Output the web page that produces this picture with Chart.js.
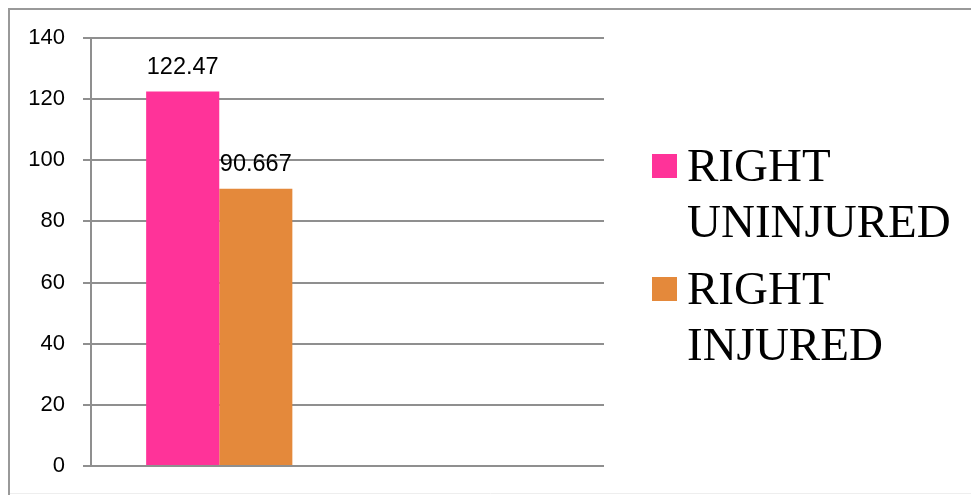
<!DOCTYPE html>
<html>
<head>
<meta charset="utf-8">
<script src="https://cdn.jsdelivr.net/npm/chart.js@4/dist/chart.umd.min.js"></script>
<style>
  html, body { margin: 0; padding: 0; background: #fff; }
  #wrap { width: 971px; height: 495px; position: relative; }
</style>
</head>
<body>
<div id="wrap"><canvas id="c"></canvas></div>
<script>
// ---- data ----
const categories = ['', ''];
const rightUninjured = [122.47, null];
const rightInjured = [90.667, null];
const seriesNames = [['RIGHT', 'UNINJURED'], ['RIGHT', 'INJURED']];
const yMin = 0, yMax = 140, yStep = 20;

// ---- styles ----
const colors = ['#FF3399', '#E4893B'];
const gridColor = '#8f8f8f';

const frame = {
  id: 'frame',
  beforeDraw(chart) {
    const ctx = chart.ctx;
    ctx.save();
    ctx.fillStyle = '#fff';
    ctx.fillRect(0, 0, chart.width, chart.height);
    ctx.strokeStyle = '#999';
    ctx.lineWidth = 2;
    ctx.beginPath();
    ctx.moveTo(9, chart.height);
    ctx.lineTo(9, 9);
    ctx.lineTo(chart.width, 9);
    ctx.stroke();
    ctx.strokeStyle = '#eeeeee';
    ctx.lineWidth = 1;
    ctx.beginPath();
    ctx.moveTo(10, chart.height - 1.5);
    ctx.lineTo(chart.width, chart.height - 1.5);
    ctx.stroke();
    ctx.restore();
  }
};

const valueLabels = {
  id: 'valueLabels',
  afterDatasetsDraw(chart) {
    const ctx = chart.ctx;
    ctx.save();
    ctx.font = '23.5px "Liberation Sans", Arial, sans-serif';
    ctx.fillStyle = '#000';
    ctx.textAlign = 'center';
    ctx.textBaseline = 'alphabetic';
    chart.data.datasets.forEach((ds, i) => {
      const meta = chart.getDatasetMeta(i);
      meta.data.forEach((bar, j) => {
        const v = ds.data[j];
        if (v === null || v === undefined) return;
        ctx.fillText(String(v), bar.x, bar.y - 18);
      });
    });
    ctx.restore();
  }
};

const sideLegend = {
  id: 'sideLegend',
  afterDraw(chart) {
    const ctx = chart.ctx;
    ctx.save();
    ctx.font = '47px "Liberation Serif", "Times New Roman", serif';
    ctx.fillStyle = '#000';
    ctx.textAlign = 'left';
    ctx.textBaseline = 'alphabetic';
    const startBase = [181, 304];
    chart.data.datasets.forEach((ds, i) => {
      const base = startBase[i];
      ctx.fillStyle = ds.backgroundColor;
      ctx.fillRect(652, base - 27, 25, 24);
      ctx.fillStyle = '#000';
      const lines = Array.isArray(ds.label) ? ds.label : [ds.label];
      lines.forEach((ln, k) => ctx.fillText(ln, 687, base + k * 56));
    });
    ctx.restore();
  }
};

new Chart(document.getElementById('c'), {
  type: 'bar',
  data: {
    labels: categories,
    datasets: [
      { label: seriesNames[0], data: rightUninjured, backgroundColor: colors[0] },
      { label: seriesNames[1], data: rightInjured, backgroundColor: colors[1] }
    ]
  },
  options: {
    responsive: true,
    maintainAspectRatio: false,
    animation: false,
    devicePixelRatio: 1,
    layout: { padding: { left: 0, top: 38, right: 367, bottom: 29 } },
    datasets: { bar: { categoryPercentage: 0.57, barPercentage: 1.0 } },
    plugins: { legend: { display: false }, tooltip: { enabled: false } },
    scales: {
      x: { display: false },
      y: {
        min: yMin, max: yMax,
        ticks: {
          stepSize: yStep,
          padding: 18,
          color: '#000',
          font: { family: '"Liberation Sans", Arial, sans-serif', size: 22, lineHeight: 0.4 }
        },
        grid: { color: gridColor, lineWidth: 2, tickLength: 8, drawTicks: true },
        border: { color: gridColor, width: 2 },
        afterFit(scale) { scale.width = 91; }
      }
    }
  },
  plugins: [frame, valueLabels, sideLegend]
});
</script>
</body>
</html>
